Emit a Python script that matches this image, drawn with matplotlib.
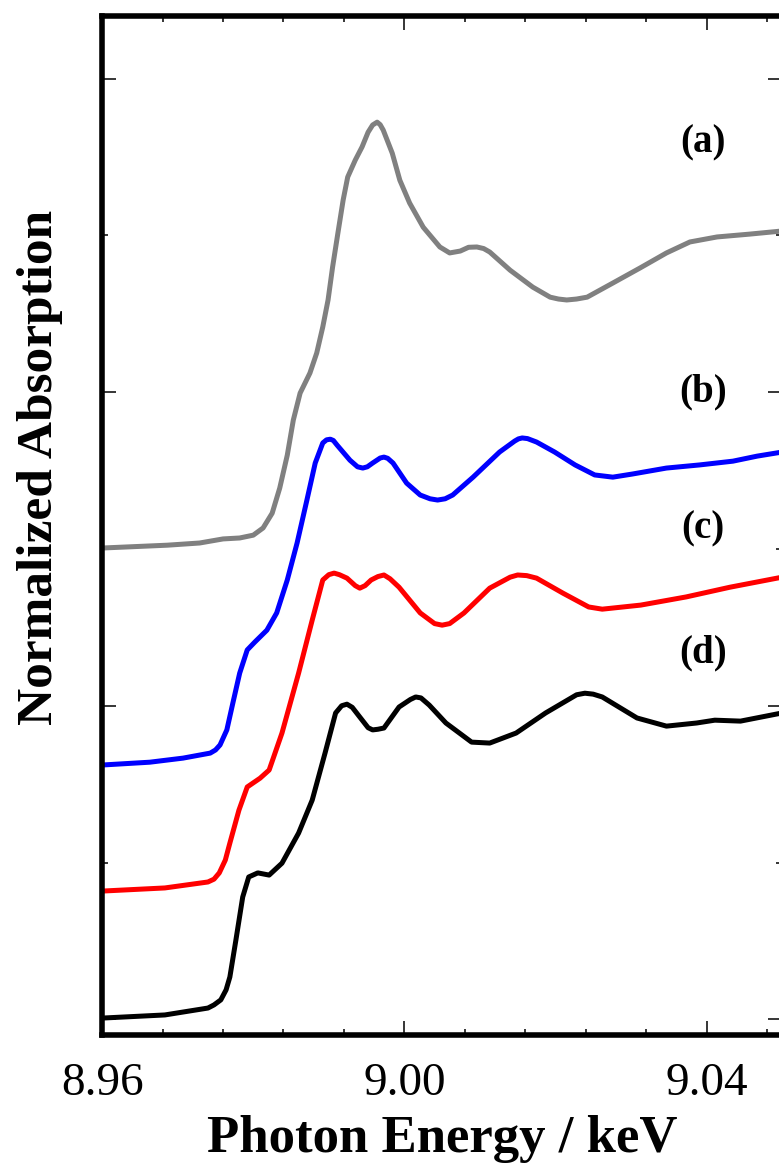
import matplotlib
matplotlib.use("Agg")
import matplotlib.pyplot as plt
from matplotlib.ticker import MultipleLocator

# Normalized XANES spectra (offset vertically), energies in keV
energy_a = [8.9600, 8.9686, 8.9729, 8.9760, 8.9782, 8.9800, 8.9813, 8.9825, 8.9835,
            8.9845, 8.9853, 8.9862, 8.9875, 8.9884, 8.9892, 8.9899, 8.9905, 8.9912,
            8.9919, 8.9925, 8.9935, 8.9944, 8.9952, 8.9958, 8.9964, 8.9968, 8.9972,
            8.9984, 8.9994, 9.0007, 9.0025, 9.0047, 9.0060, 9.0074, 9.0085, 9.0096,
            9.0105, 9.0113, 9.0140, 9.0170, 9.0193, 9.0204, 9.0215, 9.0228, 9.0242,
            9.0276, 9.0312, 9.0347, 9.0378, 9.0414, 9.0457, 9.0500]
absorb_a = [1.503, 1.512, 1.519, 1.532, 1.535, 1.544, 1.567, 1.614, 1.694,
            1.799, 1.911, 1.997, 2.061, 2.125, 2.208, 2.294, 2.399, 2.507,
            2.613, 2.686, 2.740, 2.782, 2.829, 2.852, 2.861, 2.853, 2.836,
            2.762, 2.676, 2.603, 2.526, 2.463, 2.444, 2.450, 2.462, 2.463,
            2.458, 2.447, 2.389, 2.335, 2.303, 2.297, 2.294, 2.297, 2.303,
            2.348, 2.396, 2.444, 2.479, 2.495, 2.504, 2.514]

energy_b = [8.9600, 8.9663, 8.9707, 8.9743, 8.9750, 8.9756, 8.9765, 8.9773, 8.9782,
            8.9792, 8.9802, 8.9818, 8.9831, 8.9845, 8.9858, 8.9871, 8.9882, 8.9892,
            8.9897, 8.9902, 8.9906, 8.9911, 8.9928, 8.9938, 8.9945, 8.9951, 8.9958,
            8.9968, 8.9973, 8.9978, 8.9985, 9.0003, 9.0021, 9.0034, 9.0044, 9.0054,
            9.0064, 9.0091, 9.0126, 9.0146, 9.0151, 9.0156, 9.0163, 9.0175, 9.0199,
            9.0226, 9.0252, 9.0276, 9.0302, 9.0347, 9.0391, 9.0435, 9.0467, 9.0500]
absorb_b = [0.811, 0.820, 0.833, 0.849, 0.859, 0.875, 0.923, 1.009, 1.104,
            1.178, 1.203, 1.241, 1.296, 1.401, 1.519, 1.656, 1.774, 1.838,
            1.848, 1.850, 1.846, 1.831, 1.783, 1.762, 1.758, 1.762, 1.774,
            1.790, 1.793, 1.789, 1.774, 1.710, 1.672, 1.660, 1.656, 1.660,
            1.672, 1.729, 1.809, 1.844, 1.851, 1.854, 1.852, 1.841, 1.809,
            1.768, 1.736, 1.729, 1.739, 1.758, 1.768, 1.780, 1.796, 1.809]

energy_c = [8.9600, 8.9683, 8.9740, 8.9748, 8.9755, 8.9763, 8.9769, 8.9781, 8.9792,
            8.9809, 8.9821, 8.9838, 8.9860, 8.9878, 8.9892, 8.9900, 8.9907, 8.9914,
            8.9924, 8.9935, 8.9941, 8.9948, 8.9956, 8.9965, 8.9973, 8.9981, 8.9993,
            9.0021, 9.0040, 9.0050, 9.0060, 9.0079, 9.0113, 9.0140, 9.0150, 9.0162,
            9.0175, 9.0210, 9.0244, 9.0262, 9.0313, 9.0373, 9.0431, 9.0500]
absorb_c = [0.409, 0.419, 0.438, 0.447, 0.467, 0.508, 0.562, 0.667, 0.741,
            0.769, 0.795, 0.913, 1.104, 1.273, 1.401, 1.418, 1.423, 1.418,
            1.407, 1.383, 1.375, 1.383, 1.401, 1.412, 1.417, 1.405, 1.378,
            1.296, 1.262, 1.257, 1.262, 1.296, 1.375, 1.410, 1.417, 1.415,
            1.407, 1.359, 1.315, 1.308, 1.321, 1.347, 1.378, 1.410]

energy_d = [8.9600, 8.9683, 8.9740, 8.9748, 8.9757, 8.9764, 8.9769, 8.9777, 8.9786,
            8.9794, 8.9806, 8.9821, 8.9838, 8.9860, 8.9878, 8.9895, 8.9909, 8.9917,
            8.9924, 8.9931, 8.9941, 8.9952, 8.9958, 8.9965, 8.9973, 8.9993, 9.0008,
            9.0015, 9.0022, 9.0033, 9.0055, 9.0089, 9.0113, 9.0148, 9.0187, 9.0228,
            9.0239, 9.0250, 9.0262, 9.0308, 9.0347, 9.0387, 9.0411, 9.0445, 9.0500]
absorb_d = [0.004, 0.014, 0.036, 0.046, 0.062, 0.094, 0.135, 0.253, 0.390,
            0.454, 0.467, 0.460, 0.498, 0.594, 0.699, 0.849, 0.977, 1.000,
            1.005, 0.995, 0.964, 0.930, 0.923, 0.925, 0.929, 0.996, 1.020,
            1.028, 1.025, 1.002, 0.945, 0.884, 0.881, 0.913, 0.977, 1.035,
            1.040, 1.037, 1.028, 0.961, 0.935, 0.945, 0.954, 0.951, 0.977]

labels = ["(a)", "(b)", "(c)", "(d)"]
label_y = [2.796, 2.000, 1.564, 1.169]
colors = ["#808080", "#0000ff", "#ff0000", "#000000"]

plt.rcParams['font.family'] = ['Liberation Serif', 'DejaVu Serif']

fig = plt.figure(figsize=(7.79, 11.67), dpi=100)
ax = fig.add_axes([0.1312, 0.1131, 0.8727, 0.8733])

series = [(energy_a, absorb_a), (energy_b, absorb_b),
          (energy_c, absorb_c), (energy_d, absorb_d)]
for (e, a), c in zip(series, colors):
    ax.plot(e, a, color=c, lw=3.6, solid_joinstyle='round', solid_capstyle='butt')

for lab, yy in zip(labels, label_y):
    ax.text(9.0395, yy, lab, ha='center', va='center', fontsize=28, fontweight='bold')

ax.set_xlim(8.96, 9.05)
ax.set_ylim(-0.05, 3.2)
ax.xaxis.set_major_locator(MultipleLocator(0.04))
ax.xaxis.set_minor_locator(MultipleLocator(0.008))
ax.yaxis.set_major_locator(MultipleLocator(1.0))
ax.yaxis.set_minor_locator(MultipleLocator(0.5))
ax.xaxis.set_major_formatter(plt.FuncFormatter(lambda v, p: f"{v:.2f}"))
ax.tick_params(which='both', direction='in', top=True, right=True, width=1.1)
ax.tick_params(which='major', length=10, labelsize=34, pad=20)
ax.tick_params(which='minor', length=4.3)
ax.tick_params(axis='y', labelleft=False)

for s in ax.spines.values():
    s.set_linewidth(4)

ax.set_xlabel("Photon Energy / keV", fontsize=38, fontweight='bold')
ax.xaxis.set_label_coords(0.5, -0.078)
ax.set_ylabel("Normalized Absorption", fontsize=37, fontweight='bold')
ax.yaxis.set_label_coords(-0.057, 0.557)

fig.savefig("out.png", dpi=100)
